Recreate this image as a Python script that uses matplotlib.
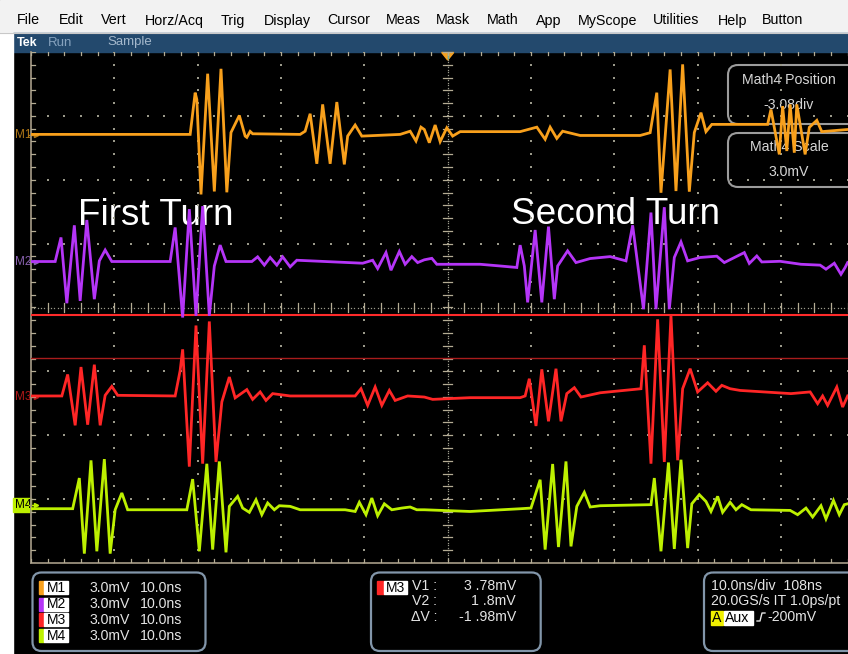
import matplotlib
matplotlib.use("Agg")
import matplotlib.pyplot as plt
import numpy as np
from matplotlib.patches import Rectangle, FancyBboxPatch, Polygon

# ---------------- data (time in ns, amplitude in mV relative to each trace's ground) ----------------
m1_t = [-50.0, -30.9, -30.3, -30.1, -29.6, -28.8, -28.0, -27.2, -26.5, -26.0, -25.0, -24.3, -24.1, -23.7, -23.4,
        -17.7, -17.1, -16.5, -15.7, -15.0, -14.1, -13.3, -12.4, -12.0, -11.1, -10.3, -5.7, -4.5, -3.8, -3.2,
        -2.8, -2.2, -1.5, -0.9, -0.1, 0.6, 1.5, 8.7, 10.7, 11.7, 12.3, 13.1, 13.8, 15.9, 23.1, 24.3, 24.8, 25.1,
        25.6, 26.7, 27.4, 28.2, 29.0, 29.6, 30.4, 31.0, 31.7, 38.4, 38.8, 39.8, 40.2, 40.7, 41.1, 41.6, 41.9,
        42.9, 43.4, 44.3, 44.9, 48.0]
m1_mv = [0.00, 0.00, 1.96, 1.64, -2.82, 2.85, -2.68, 3.08, -2.72, 0.09, 0.89, -0.08, -0.14, 0.14, 0.03,
         0.00, 0.15, 0.97, -1.38, 1.41, -1.38, 1.52, -1.41, -0.08, 0.44, -0.08, 0.00, 0.15, -0.31, 0.34,
         0.23, -0.39, 0.44, -0.34, 0.31, -0.08, 0.13, 0.13, 0.34, -0.23, 0.34, -0.19, 0.15, -0.05, -0.05, 0.08,
         1.27, 1.96, -2.74, 3.05, -2.66, 3.29, -2.69, 0.09, 1.02, 0.13, 0.47, 0.47, 1.17, -0.94, 1.33, -0.78,
         1.41, -0.86, 1.41, -0.94, 0.33, 0.66, 0.13, 0.23]

m2_t = [-50.0, -47.1, -46.4, -45.7, -44.8, -44.1, -43.3, -42.4, -41.8, -41.1, -40.3, -33.3, -32.7, -31.8, -31.0,
        -30.2, -29.4, -28.6, -28.0, -27.3, -26.6, -23.5, -22.8, -22.0, -21.3, -20.5, -19.8, -18.9, -18.1, -10.2,
        -9.0, -8.4, -7.4, -6.8, -5.8, -5.1, -4.3, -3.6, -2.8, -1.9, -1.3, 3.9, 6.3, 8.3, 8.7, 9.2, 9.6, 10.5,
        11.3, 12.1, 12.8, 13.2, 14.4, 15.4, 17.1, 19.5, 21.4, 22.2, 23.5, 24.4, 25.0, 26.0, 26.6, 27.2, 28.0,
        28.8, 30.3, 32.3, 33.2, 35.6, 36.2, 37.1, 37.7, 39.9, 42.4, 44.7, 45.4, 46.4, 47.2, 47.7, 48.0]
m2_mv = [0.00, 0.00, 1.13, -1.96, 1.70, -1.85, 1.95, -1.77, 0.03, 0.54, 0.00, 0.00, 1.60, -2.63, 2.46,
         -2.55, 2.60, -2.55, -0.21, 0.77, 0.00, 0.00, 0.22, -0.17, 0.19, -0.17, 0.22, -0.25, 0.06, -0.08,
         0.06, -0.33, 0.42, -0.41, 0.47, -0.13, 0.23, -0.05, 0.08, 0.15, -0.13, -0.13, -0.21, -0.28, 0.77, -0.21,
         -1.92, 1.48, -1.92, 1.64, -1.77, -0.21, 0.50, -0.05, 0.14, 0.23, 0.03, 1.70, -2.24, 2.30, -2.24, 2.55,
         -2.24, 0.19, 0.92, 0.03, 0.19, 0.25, -0.05, 0.42, -0.09, 0.26, -0.02, 0.01, -0.13, -0.17, -0.36, -0.08,
         -0.60, -0.28, -0.05]

m3_t = [-50.0, -46.3, -45.6, -44.7, -44.0, -43.2, -42.4, -41.7, -41.1, -40.3, -39.6, -32.7, -32.1, -31.8, -31.0,
        -30.2, -29.4, -28.6, -27.8, -27.1, -26.2, -25.5, -24.1, -23.4, -22.5, -21.8, -21.0, -18.9, -11.1, -10.4,
        -9.6, -8.7, -7.9, -7.0, -6.3, -4.8, -2.8, -1.8, 2.7, 8.7, 9.3, 9.8, 10.6, 11.3, 12.1, 13.0, 13.6, 14.3,
        15.2, 16.0, 18.3, 23.2, 23.6, 24.4, 25.2, 26.0, 26.8, 27.6, 28.2, 29.1, 30.0, 31.2, 32.2, 32.9, 33.9,
        35.1, 41.2, 43.5, 44.4, 45.0, 45.6, 46.7, 47.4, 48.0]
m3_mv = [0.00, 0.00, 1.01, -1.38, 1.36, -1.35, 1.47, -1.38, 0.03, 0.45, 0.03, 0.00, 1.20, 2.19, -3.32,
         3.31, -3.18, 3.50, -3.10, -0.28, 0.89, -0.09, 0.30, -0.16, 0.19, -0.21, 0.11, 0.00, 0.00, 0.34,
         -0.44, 0.42, -0.44, 0.26, -0.21, 0.00, -0.05, -0.16, -0.08, -0.08, 0.00, 0.81, -1.41, 1.25, -1.19, 1.28,
         -1.19, 0.11, 0.39, -0.05, 0.15, 0.34, 2.38, -3.18, 3.60, -3.10, 3.78, -3.02, 0.34, 1.28, 0.19, 0.62,
         0.22, 0.50, 0.34, 0.26, 0.11, 0.19, -0.36, 0.00, -0.44, 0.42, -0.52, 0.00]

m4_t = [-50.0, -45.0, -44.2, -43.6, -42.8, -42.1, -41.2, -40.5, -39.9, -39.1, -38.4, -31.3, -30.6, -29.8, -28.9,
        -28.2, -27.4, -26.6, -26.2, -25.2, -24.6, -23.8, -23.0, -22.3, -21.6, -20.8, -20.2, -18.9, -17.7, -12.3,
        -11.1, -10.6, -9.8, -9.1, -8.4, -7.6, -6.7, -5.5, -4.5, -3.7, -2.8, 2.7, 8.8, 10.0, 11.1, 11.7, 12.6,
        13.3, 14.2, 14.8, 15.5, 16.4, 17.1, 18.3, 24.4, 24.8, 25.6, 26.5, 27.2, 28.0, 28.8, 29.3, 30.2, 31.0,
        31.6, 32.4, 33.0, 33.9, 34.6, 35.3, 36.4, 41.1, 42.0, 43.0, 43.8, 44.8, 45.4, 46.3, 47.0, 47.6, 48.0]
m4_mv = [0.00, 0.00, 1.44, -2.11, 2.27, -2.00, 2.33, -2.11, -0.05, 0.74, -0.05, -0.05, 1.39, -2.00, 2.11,
         -1.92, 2.22, -2.05, 0.11, 0.58, 0.03, -0.17, 0.42, -0.28, 0.27, -0.05, 0.14, 0.11, -0.05, -0.05,
         -0.13, 0.30, -0.28, 0.50, -0.33, 0.23, -0.05, 0.03, 0.08, -0.05, -0.05, -0.13, 0.00, 0.03, 1.36, -1.92,
         2.10, -1.80, 2.22, -1.77, 0.11, 0.77, 0.08, 0.14, 0.19, 1.44, -2.00, 2.17, -1.89, 2.30, -1.85, 0.23,
         0.66, 0.34, -0.13, 0.58, -0.17, 0.30, -0.05, 0.19, -0.05, -0.08, -0.28, 0.03, -0.39, 0.14, -0.48, 0.39,
         -0.28, 0.19, 0.23]

trace_names = ["M1", "M2", "M3", "M4"]
trace_offsets_div = [2.71, 0.72, -1.385, -3.15]
trace_colors = ["#f8a01c", "#b535f7", "#ff2626", "#bdf000"]
volts_per_div_mv = 3.0
ns_per_div = 10.0
cursor_v1_mv = 3.78
cursor_v2_mv = 1.8

menu_items = ["File", "Edit", "Vert", "Horz/Acq", "Trig", "Display", "Cursor", "Meas", "Mask",
              "Math", "App", "MyScope", "Utilities", "Help", "Button"]
menu_x = [17, 59, 101, 145, 221, 264, 327, 386, 436, 487, 536, 578, 653, 718, 762]

# ---------------- figure ----------------
W, H, DPI = 848, 654, 100
FONT = "Liberation Sans"
fig = plt.figure(figsize=(W / DPI, H / DPI), dpi=DPI)
fig.patch.set_facecolor("black")

ui = fig.add_axes([0, 0, 1, 1], zorder=0)
ui.set_xlim(0, W)
ui.set_ylim(H, 0)
ui.axis("off")

# menu bar and status bar
ui.add_patch(Rectangle((0, 0), W, 33, color="#f2f2f2", zorder=1))
ui.plot([0, W], [32.5, 32.5], color="#c8c8c8", lw=0.8, zorder=2)
for s, x in zip(menu_items, menu_x):
    ui.text(x, 20.5, s, fontsize=10.3, family=FONT, color="black", va="center", ha="left", zorder=3)
ui.add_patch(Rectangle((13, 33), W - 13, 19, color="#23496d", zorder=1))
ui.add_patch(Rectangle((0, 33), 13, H - 33, color="white", zorder=1))
ui.text(17, 42.5, "Tek", fontsize=9, family=FONT, weight="bold", color="white", va="center", zorder=3)
ui.text(48, 42.5, "Run", fontsize=9.5, family=FONT, color="#86a2be", va="center", zorder=3)
ui.text(107, 42.5, "Sample", fontsize=9.5, family=FONT, color="#a4b8cc", va="center", zorder=3)

# annotations (below traces)
ui.text(78, 225, "First Turn", fontsize=26.6, family=FONT, color="white", va="baseline", ha="left", zorder=3)
ui.text(511, 224, "Second Turn", fontsize=26.6, family=FONT, color="white", va="baseline", ha="left", zorder=3)

# math boxes at top right
for (y0, y1) in [(65, 124), (133, 187)]:
    ui.add_patch(FancyBboxPatch((728, y0), 140, y1 - y0, boxstyle="round,pad=0,rounding_size=10",
                                fc="none", ec="#9c9c9c", lw=1.5, zorder=3))
for s, y in [("Math4 Position", 80), ("-3.08div", 105), ("Math4 Scale", 147), ("3.0mV", 172)]:
    ui.text(789, y, s, fontsize=10.2, family=FONT, color="#d6d6d6", ha="center", va="center", zorder=3)

# channel labels at left edge
label_y = [135, 262, 397, 504.5]
label_cols = ["#b07818", "#8a62b0", "#b01818", "black"]
for name, y, c, tc in zip(trace_names, label_y, label_cols, trace_colors):
    if name == "M4":
        ui.add_patch(Rectangle((13, y - 7), 18, 14, color=tc, zorder=3))
    ui.text(14.5, y, name, fontsize=8.5, family=FONT, color=c, va="center", ha="left", zorder=4)
    ui.plot([29, 37], [y, y], color=c if name != "M4" else tc, lw=1, zorder=4)
    ui.plot([36], [y], marker=">", ms=3, color=c if name != "M4" else tc, zorder=4)

# trigger marker
ui.add_patch(Polygon([[441.7, 52.5], [453.7, 52.5], [447.7, 60]], closed=True, color="#f5a020", zorder=5))
ui.plot([447.7, 447.7], [53, 58], color="#30c0c0", lw=1, zorder=6)

# bottom readouts
txtc = "#e4e4e4"
box_ec = "#8296aa"
ui.add_patch(FancyBboxPatch((32.5, 572.5), 173, 78.5, boxstyle="round,pad=0,rounding_size=9",
                            fc="none", ec=box_ec, lw=1.6, zorder=3))
rows_y = [587.7, 604.0, 619.5, 635.7]
for name, col, y in zip(trace_names, trace_colors, rows_y):
    ui.add_patch(Rectangle((39.3, y - 6.5), 5, 13, color=col, zorder=4))
    ui.add_patch(Rectangle((44.3, y - 6.5), 24, 13, color="white", zorder=4))
    ui.text(47, y, name, fontsize=10, family=FONT, color="black", va="center", zorder=5)
    ui.text(89.3, y, "3.0mV", fontsize=10.2, family=FONT, color=txtc, va="center", zorder=5)
    ui.text(140, y, "10.0ns", fontsize=10.2, family=FONT, color=txtc, va="center", zorder=5)

ui.add_patch(FancyBboxPatch((371, 572.5), 169.7, 78.5, boxstyle="round,pad=0,rounding_size=9",
                            fc="none", ec=box_ec, lw=1.6, zorder=3))
ui.add_patch(Rectangle((376.7, 581), 7.3, 13, color=trace_colors[2], zorder=4))
ui.add_patch(Rectangle((384, 581), 23, 13, color="white", zorder=4))
ui.text(386, 587.5, "M3", fontsize=10, family=FONT, color="black", va="center", zorder=5)
for lab, val, y, x0 in [("V1 :", "3 .78mV", 585.7, 412.3), ("V2 :", "1 .8mV", 601.0, 412.3),
                        ("\u0394V :", "-1 .98mV", 617.3, 411.0)]:
    ui.text(x0, y, lab, fontsize=10.2, family=FONT, color=txtc, va="center", zorder=5)
    ui.text(516, y, val, fontsize=10.2, family=FONT, color=txtc, va="center", ha="right", zorder=5)

ui.add_patch(FancyBboxPatch((704, 572.5), 170, 78.5, boxstyle="round,pad=0,rounding_size=9",
                            fc="none", ec=box_ec, lw=1.6, zorder=3))
ui.text(710.7, 585.7, "10.0ns/div  108ns", fontsize=10.2, family=FONT, color=txtc, va="center", zorder=5)
ui.text(710.7, 601.0, "20.0GS/s IT 1.0ps/pt", fontsize=10.2, family=FONT, color=txtc, va="center", zorder=5)
ui.add_patch(Rectangle((710.7, 610.5), 12.3, 14, color="#f0f000", zorder=4))
ui.text(712, 617.5, "A", fontsize=10.2, family=FONT, color="black", va="center", zorder=5)
ui.add_patch(Rectangle((723.5, 610.5), 29.5, 14, color="white", zorder=4))
ui.text(725, 617.5, "Aux", fontsize=10.2, family=FONT, color="black", va="center", zorder=5)
ui.plot([757, 760, 762, 765], [621, 621, 613, 613], color=txtc, lw=1, zorder=5)
ui.text(767.3, 617.3, "-200mV", fontsize=10.2, family=FONT, color=txtc, va="center", zorder=5)

# ---------------- scope graticule ----------------
x_left_px, x_right_px = 31, W
y_top_px, y_bot_px = 52, 563
px_per_div_x = 83.33
ax = fig.add_axes([x_left_px / W, (H - y_bot_px) / H, (x_right_px - x_left_px) / W, (y_bot_px - y_top_px) / H],
                  zorder=1)
ax.set_facecolor("none")
xmin = -5 * ns_per_div
xmax = xmin + (x_right_px - x_left_px) / px_per_div_x * ns_per_div
ax.set_xlim(xmin, xmax)
ax.set_ylim(-4, 4)
ax.axis("off")

gcol = "#9a998a"
tcol = "#b4ac94"
minor_y = np.arange(-4, 4.001, 0.2)
minor_x = np.arange(-50, xmax, 2.0)
for xv in [-40, -30, -20, -10, 10, 20, 30, 40]:
    ax.plot(np.full_like(minor_y, xv), minor_y, ls="none", marker="s", ms=1.5, mew=0, color=gcol, zorder=1)
for yv in [-3, -2, -1, 1, 2, 3]:
    ax.plot(minor_x, np.full_like(minor_x, yv), ls="none", marker="s", ms=1.5, mew=0, color=gcol, zorder=1)
# center cross, densely dotted with ticks
fine_y = np.arange(-4, 4.001, 0.04)
fine_x = np.arange(-50, xmax, 0.4)
ax.plot(np.zeros_like(fine_y), fine_y, ls="none", marker="s", ms=0.9, mew=0, color=gcol, zorder=1)
ax.plot(fine_x, np.zeros_like(fine_x), ls="none", marker="s", ms=0.9, mew=0, color=gcol, zorder=1)
for yv in minor_y:
    ax.plot([-0.5, 0.5], [yv, yv], color=tcol, lw=0.9, zorder=1)
for xv in minor_x:
    ax.plot([xv, xv], [-0.065, 0.065], color=tcol, lw=0.9, zorder=1)
# borders with ticks
ax.plot([xmin, xmin], [-4, 4], color="#9a917e", lw=1.3, zorder=1, clip_on=False)
ax.plot([xmin, xmax], [-4, -4], color="#9a917e", lw=1.3, zorder=1, clip_on=False)
for yv in minor_y:
    ax.plot([xmin, xmin + 0.45], [yv, yv], color=tcol, lw=0.9, zorder=1)
for xv in minor_x:
    ax.plot([xv, xv], [-4, -3.94], color=tcol, lw=0.9, zorder=1)
    ax.plot([xv, xv], [4, 3.95], color=tcol, lw=0.9, zorder=1)

# cursors (relative to M3)
m3_off = trace_offsets_div[2]
ax.axhline(m3_off + cursor_v1_mv / volts_per_div_mv, color="#ff2a2a", lw=1.5, zorder=2)
ax.axhline(m3_off + cursor_v2_mv / volts_per_div_mv, color="#a81c1c", lw=1.0, zorder=2)

# ---------------- traces ----------------
series = [(m1_t, m1_mv), (m2_t, m2_mv), (m3_t, m3_mv), (m4_t, m4_mv)]
for (t, mv), off, col in zip(series, trace_offsets_div, trace_colors):
    y = off + np.asarray(mv) / volts_per_div_mv
    ax.plot(t, y, color=col, lw=2.0, solid_joinstyle="miter", zorder=3)

fig.savefig("out.png", dpi=DPI, facecolor=fig.get_facecolor())
